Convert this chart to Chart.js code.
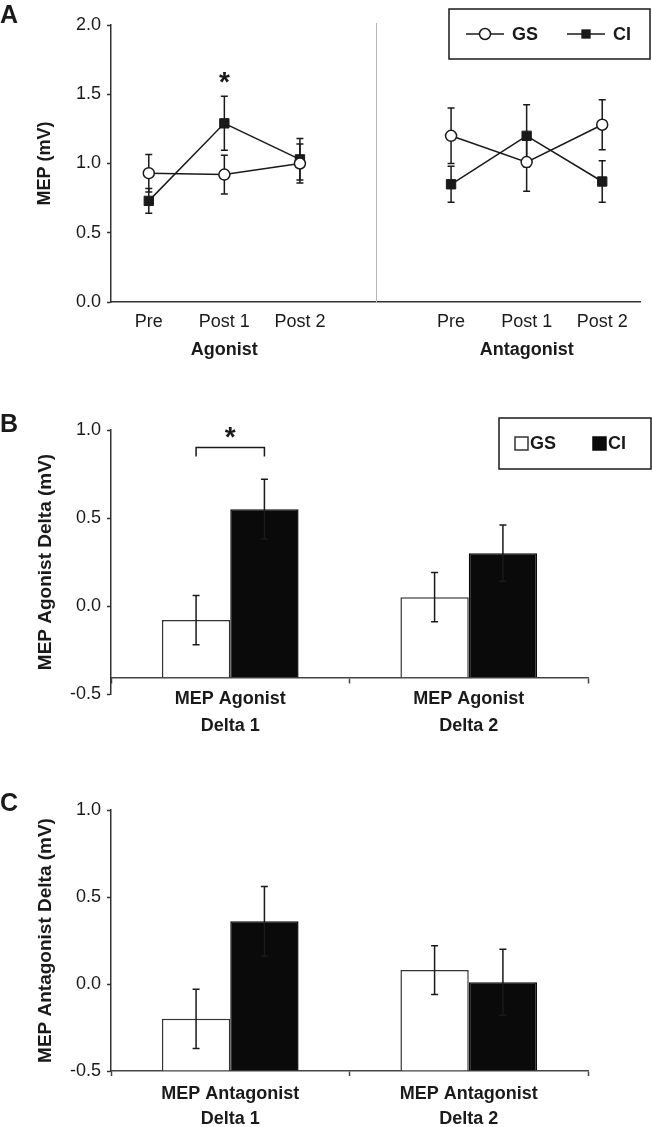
<!DOCTYPE html>
<html>
<head>
<meta charset="utf-8">
<script src="https://cdn.jsdelivr.net/npm/chart.js@4.4.0/dist/chart.umd.min.js"></script>
<style>
  html, body { margin: 0; padding: 0; background: #fff; }
  body { width: 652px; height: 1127px; position: relative; overflow: hidden; }
  .panel { position: absolute; left: 0; width: 652px; }
</style>
</head>
<body>
<div class="panel" style="top:0;height:370px"><canvas id="chartA"></canvas></div>
<div class="panel" style="top:380px;height:380px"><canvas id="chartB"></canvas></div>
<div class="panel" style="top:760px;height:367px"><canvas id="chartC"></canvas></div>
<script>
// ---- data ----
const timeLabels = ["Pre", "Post 1", "Post 2", "", "Pre", "Post 1", "Post 2"];
const muscleGroups = ["Agonist", "Antagonist"];
const groupIndex = [1, 5];

const gsMep = [0.93, 0.92, 1.0, null, 1.2, 1.01, 1.28];
const gsMepErr = [0.135, 0.14, 0.14, null, 0.2, 0.21, 0.18];
const ciMep = [0.73, 1.29, 1.03, null, 0.85, 1.2, 0.87];
const ciMepErr = [0.09, 0.195, 0.15, null, 0.13, 0.225, 0.15];
const mepTicks = [0, 0.5, 1.0, 1.5, 2.0];

const agonistLabels = [["MEP Agonist", "Delta 1"], ["MEP Agonist", "Delta 2"]];
const gsAgonistDelta = [-0.08, 0.05];
const gsAgonistErr = [0.14, 0.14];
const ciAgonistDelta = [0.55, 0.3];
const ciAgonistErr = [0.17, 0.16];

const antagonistLabels = [["MEP Antagonist", "Delta 1"], ["MEP Antagonist", "Delta 2"]];
const gsAntagonistDelta = [-0.2, 0.08];
const gsAntagonistErr = [0.17, 0.14];
const ciAntagonistDelta = [0.36, 0.01];
const ciAntagonistErr = [0.2, 0.19];
const deltaTicks = [-0.5, 0, 0.5, 1.0];

const agonistBase = -0.405;
const antagonistBase = -0.5;

// ---- look ----
const INK = "#1a1a1a";
const FONT = '"Liberation Sans", Arial, sans-serif';
Chart.defaults.font.family = FONT;
Chart.defaults.font.size = 18;
Chart.defaults.color = INK;
Chart.defaults.animation = false;

function drawErrors(chart) {
  const ctx = chart.ctx;
  const y = chart.scales.y;
  chart.data.datasets.forEach((ds, i) => {
    if (!ds.errors) return;
    chart.getDatasetMeta(i).data.forEach((el, j) => {
      const v = ds.data[j], e = ds.errors[j];
      if (v == null || e == null) return;
      const top = y.getPixelForValue(v + e), bot = y.getPixelForValue(v - e);
      ctx.save();
      ctx.strokeStyle = INK;
      ctx.lineWidth = 1.5;
      ctx.beginPath();
      ctx.moveTo(el.x, top); ctx.lineTo(el.x, bot);
      ctx.moveTo(el.x - 3.5, top); ctx.lineTo(el.x + 3.5, top);
      ctx.moveTo(el.x - 3.5, bot); ctx.lineTo(el.x + 3.5, bot);
      ctx.stroke();
      ctx.restore();
    });
  });
}

const errorBars = {
  id: "errorBars",
  beforeDatasetsDraw(chart, args, o) { if (o.behind) drawErrors(chart); },
  afterDatasetsDraw(chart, args, o) { if (!o.behind) drawErrors(chart); },
};

const panelTag = {
  id: "panelTag",
  afterDraw(chart, args, o) {
    const ctx = chart.ctx;
    ctx.save();
    ctx.font = "bold 25px " + FONT;
    ctx.fillStyle = INK;
    ctx.textBaseline = "alphabetic";
    ctx.fillText(o.text, o.x, o.y);
    ctx.restore();
  },
};

const starMark = {
  id: "starMark",
  afterDraw(chart, args, o) {
    const ctx = chart.ctx;
    const x = chart.scales.x, y = chart.scales.y;
    ctx.save();
    ctx.fillStyle = INK;
    ctx.strokeStyle = INK;
    ctx.lineWidth = 1.5;
    let cx;
    if (o.bracket) {
      const m0 = chart.getDatasetMeta(0).data[o.index];
      const m1 = chart.getDatasetMeta(1).data[o.index];
      const by = y.getPixelForValue(o.bracket[0]), ly = y.getPixelForValue(o.bracket[1]);
      ctx.beginPath();
      ctx.moveTo(m0.x, ly); ctx.lineTo(m0.x, by); ctx.lineTo(m1.x, by); ctx.lineTo(m1.x, ly);
      ctx.stroke();
      cx = (m0.x + m1.x) / 2;
    } else {
      cx = x.getPixelForValue(o.index);
    }
    ctx.font = "bold 28px " + FONT;
    ctx.textAlign = "center";
    ctx.textBaseline = "alphabetic";
    ctx.fillText("*", cx, y.getPixelForValue(o.value) + 0.57 * 28);
    ctx.restore();
  },
};

// panel A extras: divider between muscle groups, group names, legend
const panelAExtras = {
  id: "panelAExtras",
  afterDraw(chart) {
    const ctx = chart.ctx, x = chart.scales.x, area = chart.chartArea;
    ctx.save();
    const dx = Math.round(x.getPixelForValue(3)) + 0.5;
    ctx.strokeStyle = "#b5b5b5";
    ctx.lineWidth = 1;
    ctx.beginPath();
    ctx.moveTo(dx, area.top - 2);
    ctx.lineTo(dx, area.bottom + 1);
    ctx.stroke();

    ctx.fillStyle = INK;
    ctx.font = "bold 18px " + FONT;
    ctx.textAlign = "center";
    ctx.textBaseline = "alphabetic";
    muscleGroups.forEach((g, i) => ctx.fillText(g, x.getPixelForValue(groupIndex[i]), 355));

    // legend box
    const L = 449, T = 9, W = 201, H = 50, cy = T + H / 2;
    ctx.strokeStyle = INK;
    ctx.lineWidth = 1.5;
    ctx.strokeRect(L, T, W, H);
    const offs = [17, 118];
    chart.data.datasets.forEach((ds, i) => {
      const x0 = L + offs[i], x1 = x0 + 38, mx = (x0 + x1) / 2;
      ctx.strokeStyle = ds.borderColor;
      ctx.lineWidth = 1.5;
      ctx.beginPath(); ctx.moveTo(x0, cy); ctx.lineTo(x1, cy); ctx.stroke();
      if (ds.pointStyle === "circle") {
        ctx.beginPath();
        ctx.arc(mx, cy, ds.pointRadius, 0, Math.PI * 2);
        ctx.fillStyle = ds.pointBackgroundColor; ctx.fill(); ctx.stroke();
      } else {
        const s = ds.pointRadius * Math.SQRT1_2;
        ctx.fillStyle = ds.pointBackgroundColor;
        ctx.fillRect(mx - s, cy - s, 2 * s, 2 * s);
      }
      ctx.fillStyle = INK;
      ctx.textAlign = "left";
      ctx.textBaseline = "middle";
      ctx.fillText(ds.label, x1 + 8, cy + 1);
    });
    ctx.restore();
  },
};

const barLegend = {
  id: "barLegend",
  afterDraw(chart, args, o) {
    if (!o.show) return;
    const ctx = chart.ctx;
    const L = 499, T = 38, W = 152, H = 51, cy = T + H / 2;
    ctx.save();
    ctx.strokeStyle = INK;
    ctx.lineWidth = 1.5;
    ctx.strokeRect(L, T, W, H);
    const offs = [16, 94];
    chart.data.datasets.forEach((ds, i) => {
      const x0 = L + offs[i];
      ctx.fillStyle = ds.backgroundColor;
      ctx.fillRect(x0, cy - 6.5, 13, 13);
      ctx.strokeStyle = ds.borderColor;
      ctx.lineWidth = 1.5;
      ctx.strokeRect(x0, cy - 6.5, 13, 13);
      ctx.fillStyle = INK;
      ctx.font = "bold 18px " + FONT;
      ctx.textAlign = "left";
      ctx.textBaseline = "middle";
      ctx.fillText(ds.label, x0 + 15, cy + 1);
    });
    ctx.restore();
  },
};

function yAxis(ticks, title, titlePad, titleSize, width) {
  return {
    min: ticks[0],
    max: ticks[ticks.length - 1],
    afterBuildTicks: (s) => { s.ticks = ticks.map((v) => ({ value: v })); },
    ticks: { color: INK, padding: 6, callback: (v) => Number(v).toFixed(1), font: { size: 18 } },
    grid: { drawOnChartArea: false, tickLength: 4, tickColor: "#333", tickWidth: 1.5 },
    border: { color: "#333", width: 1.5 },
    title: { display: true, text: title, color: INK, font: { size: titleSize, weight: "bold" }, padding: { top: titlePad } },
    afterFit: (s) => { s.width = width; },
  };
}

// ---- panel A ----
new Chart(document.getElementById("chartA"), {
  type: "line",
  data: {
    labels: timeLabels,
    datasets: [
      {
        label: "GS", data: gsMep, errors: gsMepErr,
        borderColor: INK, borderWidth: 1.5, tension: 0, spanGaps: false,
        pointStyle: "circle", pointRadius: 5.5, pointBackgroundColor: "#fff",
        pointBorderColor: INK, pointBorderWidth: 1.5,
      },
      {
        label: "CI", data: ciMep, errors: ciMepErr,
        borderColor: INK, borderWidth: 1.5, tension: 0, spanGaps: false,
        pointStyle: "rect", pointRadius: 6.6, pointBackgroundColor: INK,
        pointBorderColor: INK, pointBorderWidth: 1,
      },
    ],
  },
  options: {
    responsive: true,
    maintainAspectRatio: false,
    layout: { padding: { left: 0, right: 12, top: 25, bottom: 0 } },
    plugins: {
      legend: { display: false },
      tooltip: { enabled: false },
      errorBars: { behind: true },
      panelTag: { text: "A", x: 0, y: 23 },
      starMark: { index: 1, value: 1.64 },
    },
    scales: {
      x: {
        offset: true,
        grid: { display: false, drawTicks: false },
        border: { color: "#333", width: 1.5 },
        ticks: { color: INK, padding: 9, autoSkip: false, maxRotation: 0, font: { size: 18 } },
        afterFit: (s) => { s.height = 68; },
      },
      y: yAxis(mepTicks, "MEP (mV)", 34, 18, 111),
    },
  },
  plugins: [errorBars, panelTag, starMark, panelAExtras],
});

// ---- panels B and C ----
function deltaChart(id, labels, gs, gsErr, ci, ciErr, base, title, tag, opts) {
  return new Chart(document.getElementById(id), {
    type: "bar",
    data: {
      labels: labels,
      datasets: [
        {
          label: "GS", data: gs, errors: gsErr, base: base,
          backgroundColor: "#fff", borderColor: "#333", borderWidth: 1.5,
          categoryPercentage: 0.573, barPercentage: 1,
        },
        {
          label: "CI", data: ci, errors: ciErr, base: base,
          backgroundColor: "#0a0a0a", borderColor: "#0a0a0a", borderWidth: 1.5,
          categoryPercentage: 0.573, barPercentage: 1,
        },
      ],
    },
    options: {
      responsive: true,
      maintainAspectRatio: false,
      layout: { padding: opts.padding },
      plugins: {
        legend: { display: false },
        tooltip: { enabled: false },
        errorBars: { behind: false },
        panelTag: { text: tag, x: 0, y: opts.tagY },
        starMark: opts.star || { index: -1, value: -10 },
        barLegend: { show: !!opts.legend },
      },
      scales: {
        x: {
          position: opts.xPos,
          grid: { drawOnChartArea: false, tickLength: 5, tickColor: "#444", tickWidth: 1.5 },
          border: { color: "#444", width: 1.5 },
          ticks: { color: INK, padding: opts.labelPad, autoSkip: false, maxRotation: 0, font: { size: 18, weight: "bold", lineHeight: opts.lineHeight } },
          afterFit: opts.xHeight ? (s) => { s.height = opts.xHeight; } : undefined,
        },
        y: yAxis(deltaTicks, title, 34, 19, 111),
      },
    },
    plugins: opts.star ? [errorBars, panelTag, starMark, barLegend] : [errorBars, panelTag, barLegend],
  });
}

deltaChart("chartB", agonistLabels, gsAgonistDelta, gsAgonistErr, ciAgonistDelta, ciAgonistErr,
  agonistBase, "MEP Agonist Delta (mV)", "B", {
    padding: { left: 0, right: 64, top: 50, bottom: 66 },
    xPos: { y: agonistBase },
    labelPad: 3,
    lineHeight: 1.5,
    tagY: 52,
    legend: true,
    star: { index: 0, value: 1.0, bracket: [0.9, 0.849] },
  });

deltaChart("chartC", antagonistLabels, gsAntagonistDelta, gsAntagonistErr, ciAntagonistDelta, ciAntagonistErr,
  antagonistBase, "MEP Antagonist Delta (mV)", "C", {
    padding: { left: 0, right: 64, top: 50, bottom: 0 },
    xPos: "bottom",
    xHeight: 56,
    labelPad: 5,
    lineHeight: 1.4,
    tagY: 51,
  });
</script>
</body>
</html>
